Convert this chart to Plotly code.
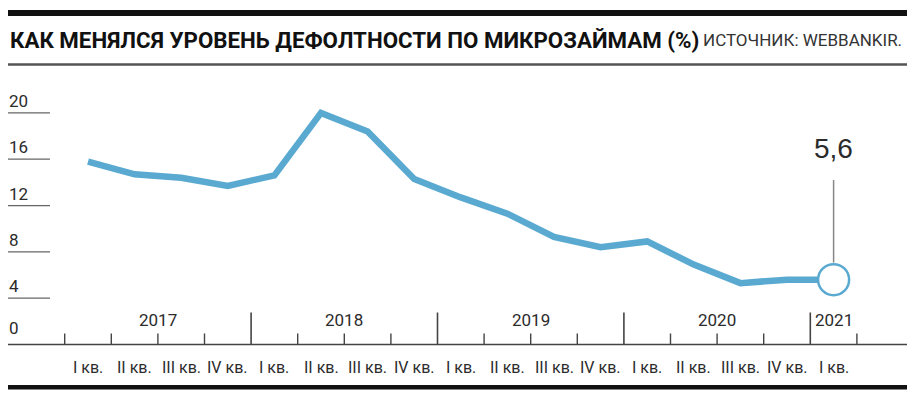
import plotly.graph_objects as go

# ---- data ----
quarter_labels = ["I кв.", "II кв.", "III кв.", "IV кв.",
                  "I кв.", "II кв.", "III кв.", "IV кв.",
                  "I кв.", "II кв.", "III кв.", "IV кв.",
                  "I кв.", "II кв.", "III кв.", "IV кв.",
                  "I кв."]
years = ["2017", "2018", "2019", "2020", "2021"]
default_rate = [15.8, 14.7, 14.4, 13.7, 14.6, 20.0, 18.4, 14.3, 12.7,
                11.3, 9.3, 8.4, 8.9, 6.9, 5.3, 5.6, 5.6]
y_ticks = [0, 4, 8, 12, 16, 20]
title_text = "КАК МЕНЯЛСЯ УРОВЕНЬ ДЕФОЛТНОСТИ ПО МИКРОЗАЙМАМ (%)"
source_text = "ИСТОЧНИК: WEBBANKIR."

# ---- layout geometry (pixels) ----
W, H = 915, 397
X0, DX = 88.0, 46.6      # pixel of first quarter centre, pixel per quarter
Y0, DY = 344.5, 11.58    # pixel of value 0, pixel per unit

def xp(px):
    return px / W

def yp(py):
    return 1 - py / H

NARROW = "Roboto, Liberation Sans, sans-serif"
LINE_COLOR = "#5AA9D1"
TXT = "#2b2b2b"

n = len(default_rate)
xs = list(range(n))

fig = go.Figure()
fig.add_trace(go.Scatter(
    x=xs, y=default_rate, mode="lines",
    line=dict(color=LINE_COLOR, width=6.5),
    hoverinfo="skip", showlegend=False,
))
fig.add_trace(go.Scatter(
    x=[xs[-1]], y=[default_rate[-1]], mode="markers",
    marker=dict(size=31, color="white", line=dict(color=LINE_COLOR, width=2.5)),
    hoverinfo="skip", showlegend=False,
))

shapes = []
annotations = []

# top bar, title rule, bottom bar
shapes.append(dict(type="rect", xref="paper", yref="paper",
                   x0=xp(8), x1=xp(907), y0=yp(16), y1=yp(10),
                   fillcolor="#111111", line=dict(width=0), layer="above"))
shapes.append(dict(type="line", xref="paper", yref="paper",
                   x0=xp(8), x1=xp(907), y0=yp(64.5), y1=yp(64.5),
                   line=dict(color="#555555", width=2.5)))
shapes.append(dict(type="rect", xref="paper", yref="paper",
                   x0=xp(8), x1=xp(907), y0=yp(389.5), y1=yp(385),
                   fillcolor="#111111", line=dict(width=0)))

annotations.append(dict(text="<b>" + title_text + "</b>", xref="paper", yref="paper",
                        x=xp(8), y=yp(40), xanchor="left", yanchor="middle",
                        showarrow=False, font=dict(family=NARROW, size=22.3, color="#111111")))
annotations.append(dict(text=source_text, xref="paper", yref="paper",
                        x=xp(904), y=yp(40.5), xanchor="right", yanchor="middle",
                        showarrow=False, font=dict(family=NARROW, size=17, color="#333333")))

# x axis baseline
shapes.append(dict(type="line", xref="paper", yref="y",
                   x0=xp(8), x1=xp(907), y0=0, y1=0,
                   line=dict(color="#444444", width=1.5)))

# y tick stubs and labels
for v in y_ticks:
    if v > 0:
        shapes.append(dict(type="line", xref="paper", yref="y",
                           x0=xp(8), x1=xp(50), y0=v, y1=v,
                           line=dict(color="#666666", width=1.3)))
    annotations.append(dict(text=str(v), xref="paper", yref="y",
                            x=xp(7), y=v, xanchor="left", yanchor="bottom",
                            yshift=0 if v > 0 else 5, showarrow=False,
                            font=dict(family=NARROW, size=17, color=TXT)))

# quarter ticks (boundaries), larger at year boundaries
for k in range(n + 1):
    b = k - 0.5
    big = (k % 4 == 0) and 0 < k < n
    tick_h = 32 if big else 11
    shapes.append(dict(type="line", xref="x", yref="y",
                       x0=b, x1=b, y0=0, y1=tick_h / DY,
                       line=dict(color="#444444", width=1.6 if big else 1.4)))

# quarter labels
for i, lab in enumerate(quarter_labels):
    annotations.append(dict(text=lab, xref="x", yref="y", x=i, y=(Y0 - 367) / DY,
                            xanchor="center", yanchor="middle", showarrow=False,
                            font=dict(family=NARROW, size=16, color=TXT)))

# year labels
for j, yr in enumerate(years):
    start = 4 * j
    count = min(4, n - start)
    cx = start + (count - 1) / 2
    annotations.append(dict(text=yr, xref="x", yref="y", x=cx, y=(Y0 - 320) / DY,
                            xanchor="center", yanchor="middle", showarrow=False,
                            font=dict(family=NARROW, size=17, color=TXT)))

# callout for last value
last_x, last_y = xs[-1], default_rate[-1]
shapes.append(dict(type="line", xref="x", yref="y",
                   x0=last_x, x1=last_x, y0=last_y + 17 / DY, y1=(Y0 - 180) / DY,
                   line=dict(color="#888888", width=1.5)))
annotations.append(dict(text=f"{last_y:.1f}".replace(".", ","), xref="x", yref="y",
                        x=last_x, y=(Y0 - 148) / DY, xanchor="center", yanchor="middle",
                        showarrow=False,
                        font=dict(family="Liberation Sans, Arial, sans-serif", size=28, color=TXT)))

fig.update_layout(
    width=W, height=H,
    margin=dict(l=0, r=0, t=0, b=0),
    paper_bgcolor="white", plot_bgcolor="white",
    xaxis=dict(range=[(0 - X0) / DX, (W - X0) / DX], visible=False, fixedrange=True),
    yaxis=dict(range=[(Y0 - H) / DY, Y0 / DY], visible=False, fixedrange=True),
    shapes=shapes, annotations=annotations, showlegend=False,
)

fig.write_html(
    "out.html",
    config={"displayModeBar": False},
    post_script="document.body.style.margin='0';document.body.style.overflow='hidden';",
)
